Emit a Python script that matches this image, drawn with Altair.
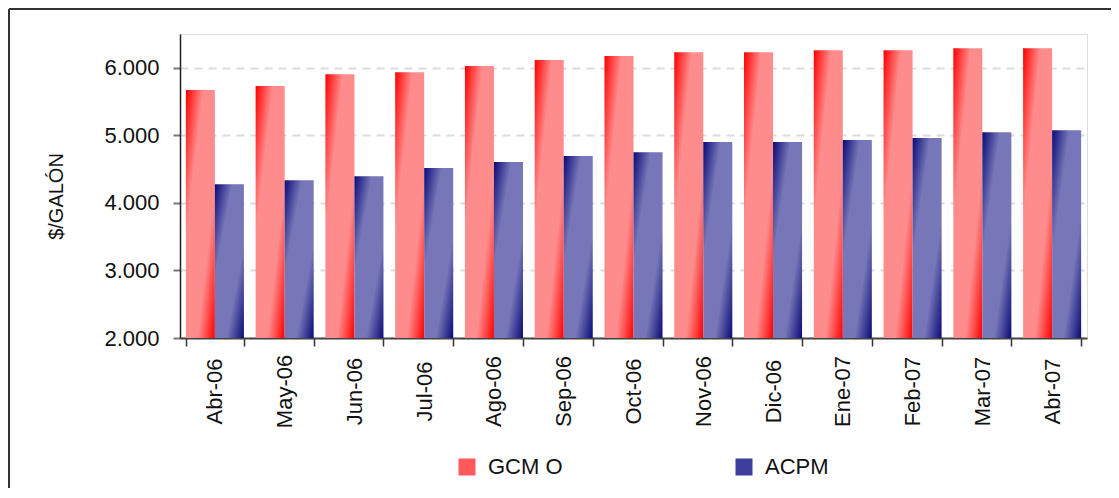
import altair as alt
import pandas as pd

months = ["Abr-06", "May-06", "Jun-06", "Jul-06", "Ago-06", "Sep-06", "Oct-06",
          "Nov-06", "Dic-06", "Ene-07", "Feb-07", "Mar-07", "Abr-07"]
series_names = ["GCM O", "ACPM"]
gcm_o = [5670, 5730, 5905, 5935, 6025, 6115, 6175, 6230, 6230, 6260, 6260, 6290, 6290]
acpm = [4275, 4335, 4395, 4515, 4605, 4695, 4750, 4900, 4900, 4930, 4960, 5045, 5075]
y_ticks = [2000, 3000, 4000, 5000, 6000]

rows = []
for i, m in enumerate(months):
    rows.append({"month": m, "series": "GCM O", "value": gcm_o[i]})
    rows.append({"month": m, "series": "ACPM", "value": acpm[i]})
df = pd.DataFrame(rows)

FONT = "Liberation Sans"

def grad(dark, light):
    return {
        "gradient": "linear", "x1": 0, "y1": 0, "x2": 1, "y2": 1,
        "stops": [
            {"offset": 0, "color": dark},
            {"offset": 0.3, "color": light},
            {"offset": 0.7, "color": light},
            {"offset": 1, "color": dark},
        ],
    }

red_grad = grad("#ff0000", "#ff8c8c")
blue_grad = grad("#0a0a78", "#7676b8")

x_enc = alt.X(
    "month:N", sort=months, title=None,
    scale=alt.Scale(paddingInner=0.168, paddingOuter=0.084),
    axis=alt.Axis(
        tickBand="extent", tickSize=8, tickColor="#333333", tickWidth=1.5,
        domainColor="#444444", domainWidth=2,
        labelAngle=270, labelAlign="center", labelBaseline="middle",
        labelPadding=45, labelFontSize=22, labelFont=FONT, labelColor="#111111",
        labelOverlap=False, labelFlush=False, grid=False,
    ),
)
xoff_enc = alt.XOffset("series:N", sort=series_names,
                       scale=alt.Scale(paddingInner=0, paddingOuter=0))
y_enc = alt.Y(
    "value:Q", title="$/GALÓN",
    scale=alt.Scale(domain=[2000, 6500], nice=False, zero=False),
    axis=alt.Axis(
        values=y_ticks,
        labelExpr="replace(format(datum.value, ',.0f'), ',', '.')",
        labelFontSize=22, labelFont=FONT, labelColor="#111111", labelPadding=14,
        tickSize=7, tickColor="#777777", tickWidth=2,
        domainColor="#222222", domainWidth=1.5,
        grid=True, gridColor="#dcdcdc", gridWidth=2, gridDash=[8, 6],
        titleFont=FONT, titleFontSize=20, titleFontWeight="normal", titleColor="#111111",
        titleAngle=270, titleAlign="center", titleBaseline="alphabetic",
        titleX=-118, titleY=162,
    ),
)

bars = alt.Chart(df).mark_bar().encode(
    x=x_enc,
    xOffset=xoff_enc,
    y=y_enc,
    y2=alt.datum(2000),
    fill=alt.condition("datum.series === 'GCM O'", alt.value(red_grad), alt.value(blue_grad)),
)

legend_layer = alt.Chart(df).mark_bar(opacity=0).encode(
    x=alt.X("month:N", sort=months),
    xOffset=alt.XOffset("series:N", sort=series_names),
    y=alt.Y("value:Q"),
    y2=alt.datum(2000),
    color=alt.Color(
        "series:N",
        scale=alt.Scale(domain=series_names, range=["#ff5a5a", "#3e3e9c"]),
        legend=alt.Legend(
            title=None, orient="none", legendX=276, legendY=422,
            direction="horizontal", columnPadding=170, padding=0,
            symbolType="square", symbolSize=289, symbolStrokeWidth=0, symbolOpacity=1,
            labelFontSize=22, labelFont=FONT, labelColor="#111111", labelOffset=10,
        ),
    ),
)

frame_data = alt.Data(values=[{"k": 1}])
frame_left = alt.Chart(frame_data).mark_rule(color="#333333", strokeWidth=2).encode(
    x=alt.value(-171), y=alt.value(-25), y2=alt.value(470)
)
frame_top = alt.Chart(frame_data).mark_rule(color="#333333", strokeWidth=2).encode(
    y=alt.value(-25), x=alt.value(-171), x2=alt.value(940)
)

chart = alt.layer(bars, legend_layer, frame_left, frame_top).properties(
    width=907, height=304,
    autosize=alt.AutoSizeParams(type="none"),
    padding={"left": 172, "top": 26, "right": 24, "bottom": 150},
).configure_view(stroke="#808080", strokeWidth=1.5).configure(background="white")

chart.save("out.html", embed_options={"renderer": "svg", "actions": False})
